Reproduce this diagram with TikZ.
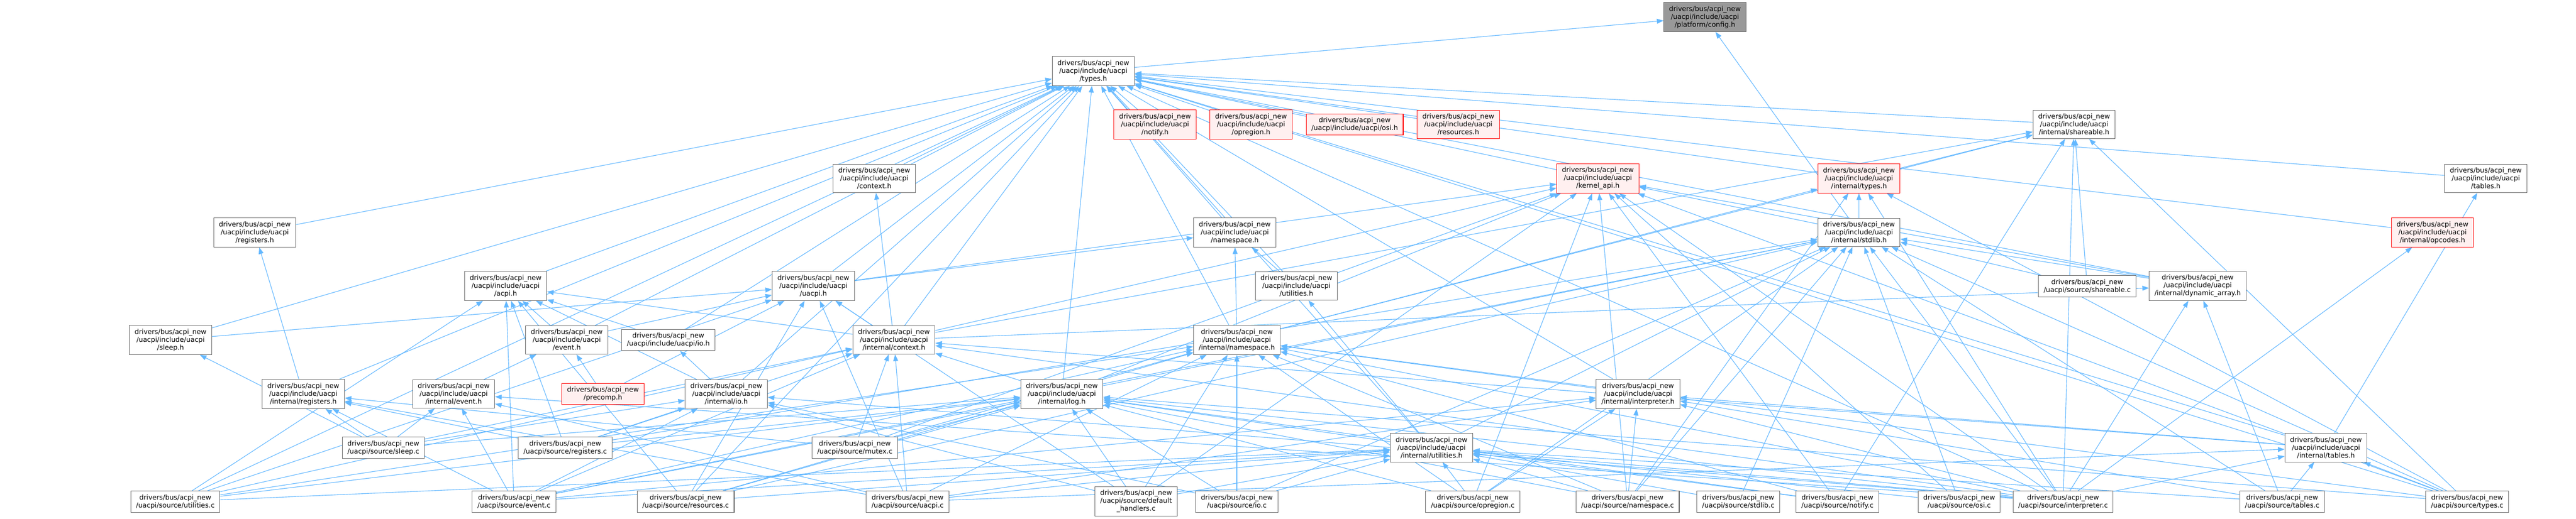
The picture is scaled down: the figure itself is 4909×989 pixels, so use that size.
\documentclass[tikz,border=0pt]{standalone}
\usepackage{fontspec}
\newfontfamily\graphfont{DejaVu Sans}
\usetikzlibrary{arrows.meta}
\definecolor{edgeblue}{RGB}{99,184,255}
\definecolor{nodedark}{RGB}{102,102,102}
\definecolor{rootfill}{RGB}{153,153,153}
\definecolor{truncfill}{RGB}{255,240,240}
\pgfdeclarelayer{background}
\pgfsetlayers{background,main}
\tikzset{filebox/.style={draw=#1,fill=white,line width=0.8pt,align=center,
    inner xsep=7.5pt,inner ysep=4.9pt,
    font=\graphfont\fontsize{9.7pt}{11.25pt}\selectfont},
  filebox/.default=nodedark}
\tikzset{truncbox/.style={filebox=red,fill=truncfill}}
\tikzset{rootbox/.style={filebox=nodedark,fill=rootfill}}
\tikzset{incl/.style={color=edgeblue,line width=0.85pt,->}}

\begin{document}
\begin{tikzpicture}[x=0.75pt,y=-0.75pt,>={Triangle[length=9.5pt,width=7pt]}]

	% Moldura
	\useasboundingbox (0,0) rectangle (4909,989);

	% O arquivo raiz
	\node [rootbox] (config) at (3249,32.5) {drivers/bus/acpi\_new\\/uacpi/include/uacpi\\/platform/config.h};

	% Cabeçalhos públicos
	\node [filebox] (types) at (2083.5,135.5) {drivers/bus/acpi\_new\\/uacpi/include/uacpi\\/types.h};
	\node [truncbox] (notifyh) at (2201,237.5) {drivers/bus/acpi\_new\\/uacpi/include/uacpi\\/notify.h};
	\node [truncbox] (opregionh) at (2384,237.5) {drivers/bus/acpi\_new\\/uacpi/include/uacpi\\/opregion.h};
	\node [truncbox] (osih) at (2581.5,237.5) {drivers/bus/acpi\_new\\/uacpi/include/uacpi/osi.h};
	\node [truncbox] (resourcesh) at (2779,237.5) {drivers/bus/acpi\_new\\/uacpi/include/uacpi\\/resources.h};
	\node [filebox] (contexth) at (1666,340.5) {drivers/bus/acpi\_new\\/uacpi/include/uacpi\\/context.h};
	\node [truncbox] (kernelapi) at (3045,340.5) {drivers/bus/acpi\_new\\/uacpi/include/uacpi\\/kernel\_api.h};
	\node [filebox] (tablesh) at (4737,340.5) {drivers/bus/acpi\_new\\/uacpi/include/uacpi\\/tables.h};
	\node [filebox] (registersh) at (485.5,443.5) {drivers/bus/acpi\_new\\/uacpi/include/uacpi\\/registers.h};
	\node [filebox] (namespaceh) at (2353,443.5) {drivers/bus/acpi\_new\\/uacpi/include/uacpi\\/namespace.h};
	\node [filebox] (acpih) at (963.5,545.5) {drivers/bus/acpi\_new\\/uacpi/include/uacpi\\/acpi.h};
	\node [filebox] (uacpih) at (1550,545.5) {drivers/bus/acpi\_new\\/uacpi/include/uacpi\\/uacpi.h};
	\node [filebox] (utilitiesh) at (2470.5,545.5) {drivers/bus/acpi\_new\\/uacpi/include/uacpi\\/utilities.h};
	\node [filebox] (sleeph) at (325,648.5) {drivers/bus/acpi\_new\\/uacpi/include/uacpi\\/sleep.h};
	\node [filebox] (eventh) at (1080,648.5) {drivers/bus/acpi\_new\\/uacpi/include/uacpi\\/event.h};
	\node [filebox] (ioh) at (1273.5,648.5) {drivers/bus/acpi\_new\\/uacpi/include/uacpi/io.h};
	\node [truncbox] (precomp) at (1149,751.5) {drivers/bus/acpi\_new\\/precomp.h};

	% Cabeçalhos internos
	\node [filebox] (ishareable) at (3952.5,237.5) {drivers/bus/acpi\_new\\/uacpi/include/uacpi\\/internal/shareable.h};
	\node [truncbox] (itypes) at (3542.5,340.5) {drivers/bus/acpi\_new\\/uacpi/include/uacpi\\/internal/types.h};
	\node [filebox] (istdlib) at (3542.5,443.5) {drivers/bus/acpi\_new\\/uacpi/include/uacpi\\/internal/stdlib.h};
	\node [truncbox] (iopcodes) at (4635.5,443.5) {drivers/bus/acpi\_new\\/uacpi/include/uacpi\\/internal/opcodes.h};
	\node [filebox] (idynarray) at (4188,545.5) {drivers/bus/acpi\_new\\/uacpi/include/uacpi\\/internal/dynamic\_array.h};
	\node [filebox] (icontext) at (1703.5,648.5) {drivers/bus/acpi\_new\\/uacpi/include/uacpi\\/internal/context.h};
	\node [filebox] (inamespace) at (2357,648.5) {drivers/bus/acpi\_new\\/uacpi/include/uacpi\\/internal/namespace.h};
	\node [filebox] (iregisters) at (578,751.5) {drivers/bus/acpi\_new\\/uacpi/include/uacpi\\/internal/registers.h};
	\node [filebox] (ievent) at (864.5,751.5) {drivers/bus/acpi\_new\\/uacpi/include/uacpi\\/internal/event.h};
	\node [filebox] (iio) at (1384,751.5) {drivers/bus/acpi\_new\\/uacpi/include/uacpi\\/internal/io.h};
	\node [filebox] (ilog) at (2023.5,751.5) {drivers/bus/acpi\_new\\/uacpi/include/uacpi\\/internal/log.h};
	\node [filebox] (iinterp) at (3121.5,751.5) {drivers/bus/acpi\_new\\/uacpi/include/uacpi\\/internal/interpreter.h};
	\node [filebox] (iutilities) at (2728,854) {drivers/bus/acpi\_new\\/uacpi/include/uacpi\\/internal/utilities.h};
	\node [filebox] (itables) at (4432.5,854) {drivers/bus/acpi\_new\\/uacpi/include/uacpi\\/internal/tables.h};

	% Arquivos-fonte
	\node [filebox] (shareablec) at (3977.5,546) {drivers/bus/acpi\_new\\/uacpi/source/shareable.c};
	\node [filebox] (sleepc) at (730.5,854) {drivers/bus/acpi\_new\\/uacpi/source/sleep.c};
	\node [filebox] (registersc) at (1077,854) {drivers/bus/acpi\_new\\/uacpi/source/registers.c};
	\node [filebox] (mutexc) at (1629,854) {drivers/bus/acpi\_new\\/uacpi/source/mutex.c};
	\node [filebox] (utilitiesc) at (334,957) {drivers/bus/acpi\_new\\/uacpi/source/utilities.c};
	\node [filebox] (eventc) at (979.5,957) {drivers/bus/acpi\_new\\/uacpi/source/event.c};
	\node [filebox] (resourcesc) at (1306.5,957) {drivers/bus/acpi\_new\\/uacpi/source/resources.c};
	\node [filebox] (uacpic) at (1729.5,957) {drivers/bus/acpi\_new\\/uacpi/source/uacpi.c};
	\node [filebox] (defhandlersc) at (2165,956.5) {drivers/bus/acpi\_new\\/uacpi/source/default\\\_handlers.c};
	\node [filebox] (ioc) at (2357,957) {drivers/bus/acpi\_new\\/uacpi/source/io.c};
	\node [filebox] (opregionc) at (2806.5,957) {drivers/bus/acpi\_new\\/uacpi/source/opregion.c};
	\node [filebox] (namespacec) at (3101.5,957) {drivers/bus/acpi\_new\\/uacpi/source/namespace.c};
	\node [filebox] (stdlibc) at (3312.5,957) {drivers/bus/acpi\_new\\/uacpi/source/stdlib.c};
	\node [filebox] (notifyc) at (3501.5,957) {drivers/bus/acpi\_new\\/uacpi/source/notify.c};
	\node [filebox] (osic) at (3733.5,957) {drivers/bus/acpi\_new\\/uacpi/source/osi.c};
	\node [filebox] (interpc) at (3931.5,957) {drivers/bus/acpi\_new\\/uacpi/source/interpreter.c};
	\node [filebox] (tablesc) at (4349,957) {drivers/bus/acpi\_new\\/uacpi/source/tables.c};
	\node [filebox] (typesc) at (4701.5,957) {drivers/bus/acpi\_new\\/uacpi/source/types.c};

	\begin{pgfonlayer}{background}
	\fill [white] (0,0) rectangle (4909,989);

	% Quem inclui config.h
	\draw [incl] (types) -- (config);
	\draw [incl] (istdlib) -- (config);

	% Quem inclui types.h
	\draw [incl] (notifyh) -- (types);
	\draw [incl] (opregionh) -- (types);
	\draw [incl] (osih) -- (types);
	\draw [incl] (resourcesh) -- (types);
	\draw [incl] (ishareable) -- (types);
	\draw [incl] (contexth) -- (types);
	\draw [incl] (kernelapi) -- (types);
	\draw [incl] (itypes) -- (types);
	\draw [incl] (tablesh) -- (types);
	\draw [incl] (registersh) -- (types);
	\draw [incl] (namespaceh) -- (types);
	\draw [incl] (iopcodes) -- (types);
	\draw [incl] (acpih) -- (types);
	\draw [incl] (uacpih) -- (types);
	\draw [incl] (utilitiesh) -- (types);
	\draw [incl] (idynarray) -- (types);
	\draw [incl] (sleeph) -- (types);
	\draw [incl] (eventh) -- (types);
	\draw [incl] (ioh) -- (types);
	\draw [incl] (icontext) -- (types);
	\draw [incl] (inamespace) -- (types);
	\draw [incl] (iregisters) -- (types);
	\draw [incl] (iio) -- (types);
	\draw [incl] (ilog) -- (types);
	\draw [incl] (iinterp) -- (types);
	\draw [incl] (iutilities) -- (types);
	\draw [incl] (itables) -- (types);
	\draw [incl] (utilitiesc) -- (types);
	\draw [incl] (resourcesc) -- (types);
	\draw [incl] (interpc) -- (types);
	\draw [incl] (typesc) -- (types);

	% Quem inclui internal/shareable.h
	\draw [incl] (itypes) -- (ishareable);
	\draw [incl] (inamespace) -- (ishareable);
	\draw [incl] (icontext) -- (ishareable);
	\draw [incl] (shareablec) -- (ishareable);
	\draw [incl] (notifyc) -- (ishareable);
	\draw [incl] (interpc) -- (ishareable);
	\draw [incl] (typesc) -- (ishareable);

	% Quem inclui context.h e tables.h
	\draw [incl] (icontext) -- (contexth);
	\draw [incl] (itables) -- (tablesh);

	% Quem inclui kernel_api.h
	\draw [incl] (uacpih) -- (kernelapi);
	\draw [incl] (istdlib) -- (kernelapi);
	\draw [incl] (idynarray) -- (kernelapi);
	\draw [incl] (icontext) -- (kernelapi);
	\draw [incl] (ilog) -- (kernelapi);
	\draw [incl] (defhandlersc) -- (kernelapi);
	\draw [incl] (mutexc) -- (kernelapi);
	\draw [incl] (namespacec) -- (kernelapi);
	\draw [incl] (notifyc) -- (kernelapi);
	\draw [incl] (opregionc) -- (kernelapi);
	\draw [incl] (osic) -- (kernelapi);
	\draw [incl] (interpc) -- (kernelapi);
	\draw [incl] (typesc) -- (kernelapi);

	% Quem inclui internal/types.h
	\draw [incl] (istdlib) -- (itypes);
	\draw [incl] (inamespace) -- (itypes);
	\draw [incl] (namespacec) -- (itypes);
	\draw [incl] (interpc) -- (itypes);
	\draw [incl] (typesc) -- (itypes);

	% Quem inclui namespace.h e utilities.h
	\draw [incl] (utilitiesh) -- (namespaceh);
	\draw [incl] (uacpih) -- (namespaceh);
	\draw [incl] (inamespace) -- (namespaceh);
	\draw [incl] (iutilities) -- (utilitiesh);

	% Quem inclui internal/stdlib.h
	\draw [incl] (idynarray) -- (istdlib);
	\draw [incl] (ilog) -- (istdlib);
	\draw [incl] (iutilities) -- (istdlib);
	\draw [incl] (shareablec) -- (istdlib);
	\draw [incl] (eventc) -- (istdlib);
	\draw [incl] (ioc) -- (istdlib);
	\draw [incl] (namespacec) -- (istdlib);
	\draw [incl] (opregionc) -- (istdlib);
	\draw [incl] (osic) -- (istdlib);
	\draw [incl] (registersc) -- (istdlib);
	\draw [incl] (resourcesc) -- (istdlib);
	\draw [incl] (stdlibc) -- (istdlib);
	\draw [incl] (tablesc) -- (istdlib);
	\draw [incl] (typesc) -- (istdlib);
	\draw [incl] (interpc) -- (istdlib);

	% Quem inclui internal/opcodes.h e internal/dynamic_array.h
	\draw [incl] (interpc) -- (iopcodes);
	\draw [incl] (icontext) -- (idynarray);
	\draw [incl] (interpc) -- (idynarray);
	\draw [incl] (tablesc) -- (idynarray);

	% Quem inclui acpi.h
	\draw [incl] (eventh) -- (acpih);
	\draw [incl] (ioh) -- (acpih);
	\draw [incl] (icontext) -- (acpih);
	\draw [incl] (iio) -- (acpih);
	\draw [incl] (registersc) -- (acpih);
	\draw [incl] (eventc) -- (acpih);
	\draw [incl] (utilitiesc) -- (acpih);
	\draw [incl] (resourcesc) -- (acpih);

	% Quem inclui uacpi.h
	\draw [incl] (sleeph) -- (uacpih);
	\draw [incl] (eventh) -- (uacpih);
	\draw [incl] (icontext) -- (uacpih);
	\draw [incl] (precomp) -- (uacpih);
	\draw [incl] (utilitiesc) -- (uacpih);
	\draw [incl] (resourcesc) -- (uacpih);
	\draw [incl] (uacpic) -- (uacpih);
	\draw [incl] (defhandlersc) -- (uacpih);

	% Quem inclui sleep.h, event.h e io.h
	\draw [incl] (sleepc) -- (sleeph);
	\draw [incl] (ievent) -- (eventh);
	\draw [incl] (precomp) -- (eventh);
	\draw [incl] (iio) -- (ioh);

	% Quem inclui internal/context.h
	\draw [incl] (ilog) -- (icontext);
	\draw [incl] (itables) -- (icontext);
	\draw [incl] (sleepc) -- (icontext);
	\draw [incl] (registersc) -- (icontext);
	\draw [incl] (mutexc) -- (icontext);
	\draw [incl] (eventc) -- (icontext);
	\draw [incl] (uacpic) -- (icontext);
	\draw [incl] (utilitiesc) -- (icontext);
	\draw [incl] (interpc) -- (icontext);

	% Quem inclui internal/namespace.h
	\draw [incl] (iinterp) -- (inamespace);
	\draw [incl] (defhandlersc) -- (inamespace);
	\draw [incl] (eventc) -- (inamespace);
	\draw [incl] (ioc) -- (inamespace);
	\draw [incl] (mutexc) -- (inamespace);
	\draw [incl] (namespacec) -- (inamespace);
	\draw [incl] (notifyc) -- (inamespace);
	\draw [incl] (opregionc) -- (inamespace);
	\draw [incl] (resourcesc) -- (inamespace);
	\draw [incl] (typesc) -- (inamespace);
	\draw [incl] (uacpic) -- (inamespace);
	\draw [incl] (utilitiesc) -- (inamespace);
	\draw [incl] (interpc) -- (inamespace);

	% Quem inclui internal/registers.h e internal/event.h
	\draw [incl] (iregisters) -- (registersh);
	\draw [incl] (sleepc) -- (iregisters);
	\draw [incl] (registersc) -- (iregisters);
	\draw [incl] (mutexc) -- (iregisters);
	\draw [incl] (eventc) -- (iregisters);
	\draw [incl] (uacpic) -- (iregisters);
	\draw [incl] (sleepc) -- (ievent);
	\draw [incl] (eventc) -- (ievent);
	\draw [incl] (interpc) -- (ievent);
	\draw [incl] (uacpic) -- (ievent);

	% Quem inclui internal/io.h
	\draw [incl] (sleepc) -- (iio);
	\draw [incl] (registersc) -- (iio);
	\draw [incl] (eventc) -- (iio);
	\draw [incl] (defhandlersc) -- (iio);
	\draw [incl] (ioc) -- (iio);
	\draw [incl] (interpc) -- (iio);

	% Quem inclui internal/log.h
	\draw [incl] (iutilities) -- (ilog);
	\draw [incl] (defhandlersc) -- (ilog);
	\draw [incl] (eventc) -- (ilog);
	\draw [incl] (ioc) -- (ilog);
	\draw [incl] (mutexc) -- (ilog);
	\draw [incl] (namespacec) -- (ilog);
	\draw [incl] (notifyc) -- (ilog);
	\draw [incl] (opregionc) -- (ilog);
	\draw [incl] (registersc) -- (ilog);
	\draw [incl] (resourcesc) -- (ilog);
	\draw [incl] (sleepc) -- (ilog);
	\draw [incl] (typesc) -- (ilog);
	\draw [incl] (utilitiesc) -- (ilog);
	\draw [incl] (interpc) -- (ilog);

	% Quem inclui internal/interpreter.h
	\draw [incl] (itables) -- (iinterp);
	\draw [incl] (eventc) -- (iinterp);
	\draw [incl] (namespacec) -- (iinterp);
	\draw [incl] (opregionc) -- (iinterp);
	\draw [incl] (tablesc) -- (iinterp);
	\draw [incl] (uacpic) -- (iinterp);
	\draw [incl] (interpc) -- (iinterp);

	% Quem inclui internal/utilities.h
	\draw [incl] (defhandlersc) -- (iutilities);
	\draw [incl] (eventc) -- (iutilities);
	\draw [incl] (ioc) -- (iutilities);
	\draw [incl] (namespacec) -- (iutilities);
	\draw [incl] (notifyc) -- (iutilities);
	\draw [incl] (opregionc) -- (iutilities);
	\draw [incl] (osic) -- (iutilities);
	\draw [incl] (resourcesc) -- (iutilities);
	\draw [incl] (stdlibc) -- (iutilities);
	\draw [incl] (tablesc) -- (iutilities);
	\draw [incl] (uacpic) -- (iutilities);
	\draw [incl] (utilitiesc) -- (iutilities);
	\draw [incl] (interpc) -- (iutilities);

	% Quem inclui internal/tables.h
	\draw [incl] (typesc) -- (itables);
	\draw [incl] (tablesc) -- (itables);
	\draw [incl] (uacpic) -- (itables);
	\draw [incl] (interpc) -- (itables);
	\end{pgfonlayer}

\end{tikzpicture}
\end{document}
